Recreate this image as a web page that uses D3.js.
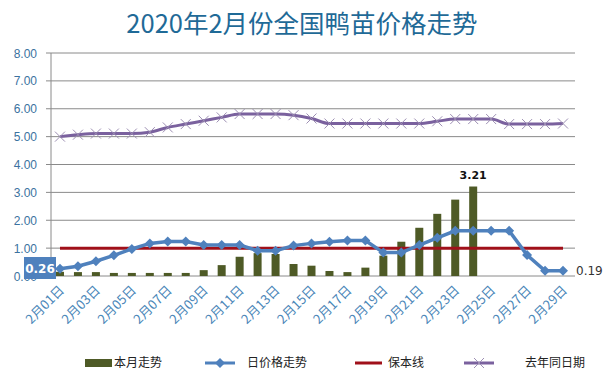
<!DOCTYPE html>
<html><head><meta charset="utf-8">
<script src="https://cdn.jsdelivr.net/npm/d3@7"></script>
<style>body{margin:0;background:#fff;overflow:hidden}svg{display:block}</style>
</head><body>
<svg id="c" width="603" height="370"></svg>
<script>
const days = d3.range(1, 30).map(d => "2月" + String(d).padStart(2, "0") + "日");
const barValues = [0.15,0.14,0.14,0.11,0.11,0.11,0.11,0.11,0.21,0.39,0.69,0.82,0.79,0.43,0.37,0.18,0.14,0.30,0.73,1.23,1.73,2.23,2.74,3.21,null,null,null,null,null];
const dailyPrice = [0.26,0.35,0.53,0.74,0.97,1.17,1.24,1.24,1.11,1.11,1.11,0.91,0.91,1.09,1.17,1.23,1.27,1.27,0.84,0.84,1.11,1.37,1.62,1.62,1.62,1.62,0.75,0.19,0.19];
const costLine = days.map(() => 1.00);
const lastYear = [5.00,5.07,5.11,5.11,5.11,5.16,5.33,5.45,5.57,5.69,5.81,5.81,5.81,5.77,5.65,5.47,5.47,5.47,5.47,5.47,5.47,5.55,5.63,5.63,5.63,5.45,5.45,5.45,5.47];
const yTicks = [0,1,2,3,4,5,6,7,8];
const legendNames = ["本月走势","日价格走势","保本线","去年同日期"];
const title = "2020年2月份全国鸭苗价格走势";

const svg = d3.select("#c");
const font = "'Noto Sans CJK SC','Noto Sans',sans-serif";
const L = 51, R = 572, T = 53, B = 276;
const x = d3.scaleBand().domain(days).range([L, R]);
const cx = d => x(d) + x.bandwidth() / 2;
const y = d3.scaleLinear().domain([0, 8]).range([B, T]);

svg.append("text").attr("x", 302).attr("y", 33).attr("text-anchor", "middle")
  .attr("font-family", font).attr("font-size", 25.5).attr("fill", "#1f6a97").text(title);

// grid
svg.append("g").selectAll("line").data(yTicks).join("line")
  .attr("x1", L - 5).attr("x2", 575).attr("y1", d => y(d)).attr("y2", d => y(d))
  .attr("stroke", "#8a8a8a").attr("stroke-width", 1);
svg.append("line").attr("x1", L).attr("x2", L).attr("y1", T).attr("y2", B)
  .attr("stroke", "#8a8a8a");
svg.append("g").selectAll("text").data(yTicks).join("text")
  .attr("x", 37).attr("y", d => y(d) + 4.5).attr("text-anchor", "end")
  .attr("font-family", "'Liberation Sans',Arial,sans-serif").attr("font-size", 12).attr("fill", "#3b72a0")
  .text(d => d.toFixed(2));

// x labels
svg.append("g").selectAll("text").data(days.filter((d, i) => i % 2 === 0)).join("text")
  .attr("transform", d => `translate(${cx(d) + 5},${291}) rotate(-45)`)
  .attr("text-anchor", "end").attr("font-family", font).attr("font-size", 13)
  .attr("fill", "#4a86b8").text(d => d);

// bars
const bw = 8;
svg.append("g").selectAll("rect").data(days.map((d, i) => [d, barValues[i]]).filter(p => p[1] != null)).join("rect")
  .attr("x", p => cx(p[0]) - bw / 2).attr("width", bw)
  .attr("y", p => y(p[1])).attr("height", p => y(0) - y(p[1]))
  .attr("fill", "#4e5a26");

// purple last year
const pLine = d3.line().x((v, i) => cx(days[i])).y(v => y(v)).curve(d3.curveMonotoneX);
svg.append("path").attr("d", pLine(lastYear)).attr("fill", "none")
  .attr("stroke", "#7a619e").attr("stroke-width", 3);
svg.append("g").selectAll("path").data(lastYear).join("path")
  .attr("d", (v, i) => { const X = cx(days[i]), Y = y(v), s = 5; return `M${X-s},${Y-s}L${X+s},${Y+s}M${X-s},${Y+s}L${X+s},${Y-s}`; })
  .attr("stroke", "#9d8fb3").attr("stroke-width", 1).attr("fill", "none");

// red cost line
const rLine = d3.line().x((v, i) => cx(days[i])).y(v => y(v));
svg.append("path").attr("d", rLine(costLine)).attr("fill", "none")
  .attr("stroke", "#a0101a").attr("stroke-width", 3);

// blue daily price
svg.append("path").attr("d", rLine(dailyPrice)).attr("fill", "none")
  .attr("stroke", "#4f81bd").attr("stroke-width", 3.5);
svg.append("g").selectAll("path").data(dailyPrice).join("path")
  .attr("d", (v, i) => { const X = cx(days[i]), Y = y(v), s = 5; return `M${X},${Y-s}L${X+s},${Y}L${X},${Y+s}L${X-s},${Y}Z`; })
  .attr("fill", "#4f81bd");

// labels
const peakI = 23;
svg.append("text").attr("x", cx(days[peakI])).attr("y", y(barValues[peakI]) - 8).attr("text-anchor", "middle")
  .attr("font-family", "'DejaVu Sans',sans-serif").attr("font-weight", "bold").attr("font-size", 11).attr("fill", "#111")
  .text(barValues[peakI].toFixed(2));
svg.append("rect").attr("x", 24).attr("y", 257).attr("width", 32).attr("height", 22).attr("fill", "#4f81bd");
svg.append("text").attr("x", 40).attr("y", 273).attr("text-anchor", "middle")
  .attr("font-family", "'DejaVu Sans',sans-serif").attr("font-weight", "bold").attr("font-size", 12).attr("fill", "#fff")
  .text(dailyPrice[0].toFixed(2));
svg.append("text").attr("x", 576).attr("y", y(dailyPrice[28]) + 4.5)
  .attr("font-family", "'DejaVu Sans',sans-serif").attr("font-size", 12).attr("fill", "#333")
  .text(dailyPrice[28].toFixed(2));

// legend at the bottom edge
const lg = svg.append("g").attr("font-family", font).attr("font-size", 12).attr("fill", "#222");
lg.append("rect").attr("x", 85).attr("y", 359).attr("width", 27).attr("height", 8).attr("fill", "#4e5a26");
lg.append("text").attr("x", 114).attr("y", 367).text(legendNames[0]);
lg.append("line").attr("x1", 205).attr("x2", 235).attr("y1", 363).attr("y2", 363).attr("stroke", "#4f81bd").attr("stroke-width", 3);
lg.append("path").attr("d", "M220,358L225,363L220,368L215,363Z").attr("fill", "#4f81bd");
lg.append("text").attr("x", 247).attr("y", 367).text(legendNames[1]);
lg.append("line").attr("x1", 355).attr("x2", 382).attr("y1", 363).attr("y2", 363).attr("stroke", "#a0101a").attr("stroke-width", 3);
lg.append("text").attr("x", 388).attr("y", 367).text(legendNames[2]);
lg.append("line").attr("x1", 464).attr("x2", 494).attr("y1", 363).attr("y2", 363).attr("stroke", "#7a619e").attr("stroke-width", 3);
lg.append("path").attr("d", "M474,358L484,368M474,368L484,358").attr("stroke", "#9d8fb3");
lg.append("text").attr("x", 525).attr("y", 367).text(legendNames[3]);
</script>
</body></html>
